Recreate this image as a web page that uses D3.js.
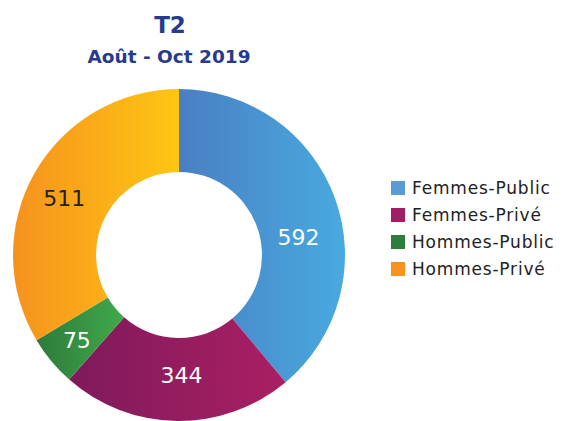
<!DOCTYPE html>
<html>
<head>
<meta charset="utf-8">
<script src="https://cdn.jsdelivr.net/npm/d3@7"></script>
<style>
  body { margin: 0; background: #fff; }
  text { font-family: "DejaVu Sans", sans-serif; }
</style>
</head>
<body>
<div class="chart"></div>
<script>
const WIDTH = 565;
const HEIGHT = 421;

// data
const categories = ["Femmes-Public", "Femmes-Privé", "Hommes-Public", "Hommes-Privé"];
const values = [592, 344, 75, 511];
const legendColors = ["#5b9bd5", "#9e1f63", "#2e7d3e", "#f7931e"];
const gradStart = ["#4a7fc2", "#7e1a5b", "#2e7a3c", "#f6921f"];
const gradEnd = ["#48aae0", "#aa1f64", "#40aa4a", "#fec612"];
const labelColors = ["#fff", "#fff", "#fff", "#222"];

const CX = 179, CY = 255, R_OUT = 166, R_IN = 83;
// small label nudges, like the hand placed labels of the original
const LABEL_NUDGE = [[2, 25], [4, -5], [-6, 5], [-6, 5]];

const svg = d3.select(".chart").append("svg")
  .attr("width", WIDTH)
  .attr("height", HEIGHT);

// Title
svg.append("text")
  .attr("x", 170).attr("y", 33)
  .attr("text-anchor", "middle")
  .attr("fill", "#263b8c")
  .style("font-size", "23px")
  .style("font-weight", "bold")
  .text("T2");
svg.append("text")
  .attr("x", 169).attr("y", 63)
  .attr("text-anchor", "middle")
  .attr("fill", "#263b8c")
  .style("font-size", "18.5px")
  .style("font-weight", "bold")
  .text("Août - Oct 2019");

// Gradients (horizontal, one per slice)
const defs = svg.append("defs");
const pie = d3.pie().sort(null).value(d => d)(values);
const arc = d3.arc().innerRadius(R_IN).outerRadius(R_OUT);

pie.forEach((p, i) => {
  const g = defs.append("linearGradient")
    .attr("id", "grad" + i)
    .attr("x1", "0%").attr("x2", "100%")
    .attr("y1", "0%").attr("y2", "0%");
  g.append("stop").attr("offset", "0%").attr("stop-color", gradStart[i]);
  g.append("stop").attr("offset", "100%").attr("stop-color", gradEnd[i]);
});

const donut = svg.append("g")
  .attr("transform", `translate(${CX}, ${CY})`);

donut.selectAll("path")
  .data(pie)
  .enter()
  .append("path")
  .attr("d", arc)
  .attr("fill", (d, i) => `url(#grad${i})`);

// Labels
const labelArc = d3.arc().innerRadius(R_IN + 42).outerRadius(R_IN + 42);
donut.selectAll(".slice-label")
  .data(pie)
  .enter()
  .append("text")
  .attr("class", "slice-label")
  .attr("transform", (d, i) => {
    const [x, y] = labelArc.centroid(d);
    return `translate(${x + LABEL_NUDGE[i][0]}, ${y + LABEL_NUDGE[i][1]})`;
  })
  .attr("text-anchor", "middle")
  .attr("dy", "0.36em")
  .attr("fill", (d, i) => labelColors[i])
  .style("font-size", "22px")
  .text(d => d.data);

// Legend
const legend = svg.append("g")
  .attr("transform", "translate(391, 181)");
const rows = legend.selectAll("g")
  .data(categories)
  .enter()
  .append("g")
  .attr("transform", (d, i) => `translate(0, ${i * 27})`);
rows.append("rect")
  .attr("width", 14).attr("height", 14)
  .attr("fill", (d, i) => legendColors[i]);
rows.append("text")
  .attr("x", 21).attr("y", 13)
  .attr("fill", "#222")
  .style("font-size", "17px")
  .style("letter-spacing", "0.8px")
  .text(d => d);
</script>
</body>
</html>
